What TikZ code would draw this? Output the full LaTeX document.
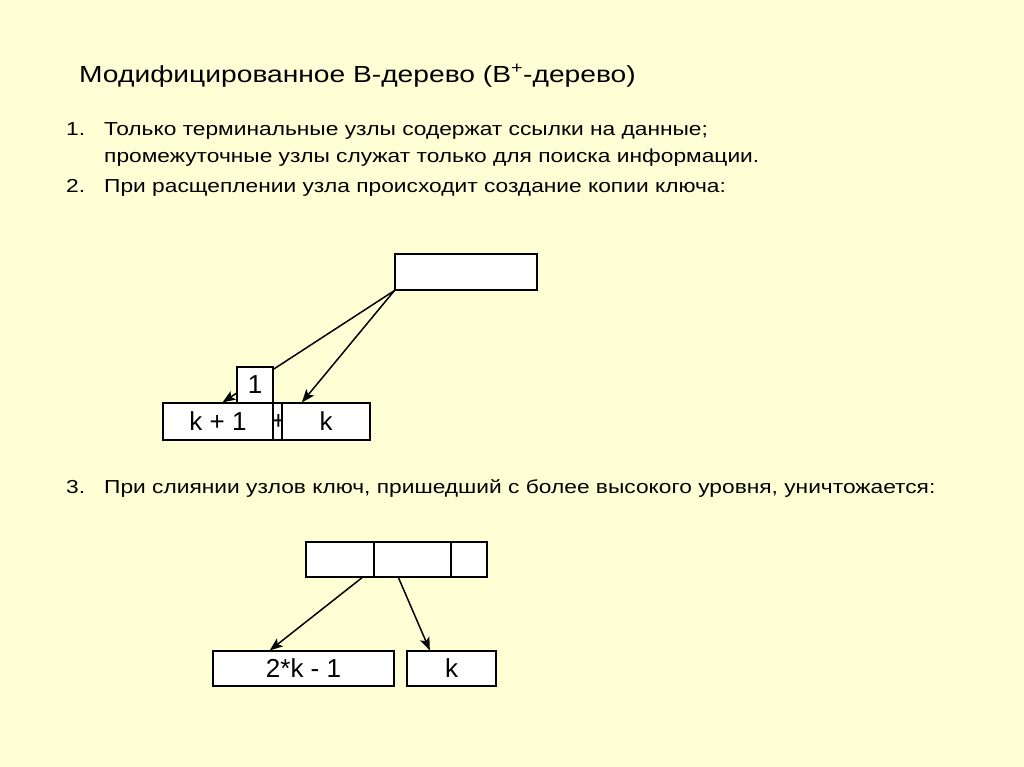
\documentclass[tikz,border=0pt]{standalone}
\usepackage{fontspec}
\setmainfont{Liberation Sans}
\newfontfamily\widefont[FakeStretch=1.21]{Liberation Sans}
\usetikzlibrary{arrows.meta,calc}
\definecolor{bgyellow}{RGB}{255,255,214}
\tikzset{
  box/.style={draw=black, fill=white, line width=1.2pt, inner sep=0pt, minimum height=36pt, font=\fontsize{26}{30}\selectfont},
  arr/.style={draw=black, line width=1.5pt, -{Stealth[length=13pt,width=10pt,inset=3pt]}},
  txt/.style={anchor=base west, inner sep=0pt, font=\widefont\fontsize{18.8}{22}\selectfont},
}
\begin{document}
\begin{tikzpicture}[x=1pt,y=-1pt]
\fill[bgyellow] (0,0) rectangle (1024,767);
\useasboundingbox (0,0) rectangle (1024,767);

% title
\node[anchor=base west, inner sep=0pt, font=\widefont\fontsize{23.3}{28}\selectfont] (title) at (79,83) {Модифицированное B-дерево (B\textsuperscript{+}-дерево)};

% items
\node[txt] (n1) at (66,136) {1.};
\node[txt] (t1a) at (104,136) {Только терминальные узлы содержат ссылки на данные;};
\node[txt] (t1b) at (104,163) {промежуточные узлы служат только для поиска информации.};
\node[txt] (n2) at (66,193) {2.};
\node[txt] (t2) at (104,193) {При расщеплении узла происходит создание копии ключа:};
\node[txt] (n3) at (66,493) {3.};
\node[txt] (t3) at (104,493) {При слиянии узлов ключ, пришедший с более высокого уровня, уничтожается:};

% split diagram
\node[box, minimum width=142pt] (top) at (466,272) {};
\node[box, minimum width=110pt, minimum height=37pt] (kp1) at (218,421.5) {k + 1};
\node[box, minimum width=9pt, minimum height=37pt] (mid) at (277.5,421.5) {};
\node[inner sep=0pt, font=\fontsize{26}{30}\selectfont] (plus) at (278.5,421.5) {+};
\node[box, minimum width=88pt, minimum height=37pt] (kk) at (326,421.5) {k};
\draw[arr] (top.south west) -- ($(kp1.north west)!0.54!(kp1.north east)$);
\draw[arr] (top.south west) -- ($(kk.north west)!0.23!(kk.north east)$);
\node[box, minimum width=36pt] (one) at (255,385) {1};

% merge diagram
\node[box, minimum width=68pt, minimum height=35pt] (c1) at (340,559.5) {};
\node[box, minimum width=77pt, minimum height=35pt] (c2) at (412.5,559.5) {};
\node[box, minimum width=36pt, minimum height=35pt] (c3) at (469,559.5) {};
\node[box, minimum width=181pt, minimum height=35pt] (b1) at (303.5,668.5) {2*k - 1};
\node[box, minimum width=89pt, minimum height=35pt] (b2) at (451.5,668.5) {k};
\draw[arr] ($(c1.south west)!0.82!(c1.south east)$) -- ($(b1.north west)!0.315!(b1.north east)$);
\draw[arr] ($(c2.south west)!0.32!(c2.south east)$) -- ($(b2.north west)!0.26!(b2.north east)$);
\end{tikzpicture}
\end{document}
